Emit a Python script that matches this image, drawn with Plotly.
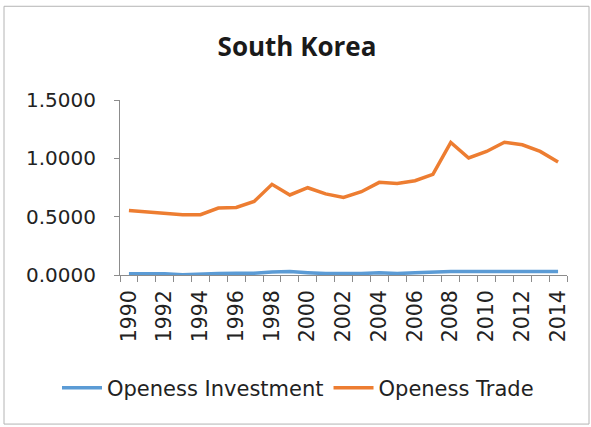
import plotly.graph_objects as go

# Openness indicators for South Korea, 1990-2014
years = list(range(1990, 2015))
openness_investment = [0.010, 0.012, 0.010, 0.003, 0.010, 0.012, 0.015, 0.015, 0.025, 0.030,
                       0.020, 0.012, 0.012, 0.012, 0.020, 0.012, 0.020, 0.028, 0.030, 0.030,
                       0.030, 0.030, 0.030, 0.030, 0.030]
openness_trade = [0.553, 0.542, 0.531, 0.517, 0.517, 0.574, 0.579, 0.630, 0.777, 0.686,
                  0.748, 0.695, 0.664, 0.714, 0.794, 0.785, 0.808, 0.862, 1.136, 1.003,
                  1.059, 1.138, 1.116, 1.059, 0.969]
year_labels = [str(y) for y in range(1990, 2015, 2)]
y_ticks = [0.0, 0.5, 1.0, 1.5]

W, H = 591, 427
L, R, T, B = 120, 24, 100, 151.5
pw, ph = W - L - R, H - T - B

def px_x(x):
    return (x - L) / pw

def px_y(y):
    return (H - B - y) / ph

font_main = "DejaVu Sans"
axis_grey = "#8c8c8c"
text_col = "#222222"

# boundaries between years carry the tick marks
boundaries = [y - 0.5 for y in years] + [years[-1] + 0.5]

fig = go.Figure()
fig.add_trace(go.Scatter(x=years, y=openness_investment, mode="lines",
                         name="Openess Investment",
                         line=dict(color="#5B9BD5", width=3.5)))
fig.add_trace(go.Scatter(x=years, y=openness_trade, mode="lines",
                         name="Openess Trade",
                         line=dict(color="#ED7D31", width=3.5)))
# empty trace so the tick-mark axis is rendered
fig.add_trace(go.Scatter(x=[], y=[], xaxis="x2", yaxis="y", showlegend=False,
                         hoverinfo="skip", mode="lines"))

fig.update_layout(
    width=W, height=H,
    margin=dict(l=L, r=R, t=T, b=B),
    paper_bgcolor="white", plot_bgcolor="white",
    title=dict(text="<b>South Korea</b>", xref="container", yref="container",
               x=297 / W, y=1 - 47 / H, xanchor="center", yanchor="middle",
               font=dict(family="Open Sans", size=26, color="#1a1a1a")),
    showlegend=True,
    legend=dict(orientation="h", x=px_x(57), y=px_y(389), xanchor="left", yanchor="middle",
                font=dict(family=font_main, size=21, color=text_col),
                bgcolor="rgba(0,0,0,0)", itemwidth=40, traceorder="normal"),
    xaxis=dict(range=[1989.5, 2014.5], tickmode="array",
               tickvals=[int(v) for v in year_labels], ticktext=year_labels,
               tickangle=-90, ticks="", showgrid=False, zeroline=False,
               showline=True, linecolor=axis_grey, linewidth=1,
               ticklabelstandoff=6,
               tickfont=dict(family=font_main, size=20.5, color=text_col)),
    xaxis2=dict(range=[1989.5, 2014.5], overlaying="x", anchor="y", side="bottom",
                tickmode="array", tickvals=boundaries, showticklabels=False,
                ticks="outside", ticklen=6, tickwidth=1, tickcolor=axis_grey,
                showgrid=False, zeroline=False, showline=False),
    yaxis=dict(range=[0, 1.5], tickmode="array", tickvals=y_ticks,
               ticktext=[f"{v:.4f}" for v in y_ticks],
               ticks="outside", ticklen=5, tickcolor=axis_grey,
               showgrid=False, zeroline=False, showline=True,
               linecolor=axis_grey, linewidth=1, ticklabelstandoff=14,
               tickfont=dict(family=font_main, size=20, color=text_col)),
)

# Chart frame
fig.add_shape(type="rect", xref="paper", yref="paper",
              x0=px_x(4), x1=px_x(589), y0=px_y(425), y1=px_y(6),
              line=dict(color="#b4b4b4", width=1), fillcolor="rgba(0,0,0,0)", layer="below")

fig.write_html("out.html")
